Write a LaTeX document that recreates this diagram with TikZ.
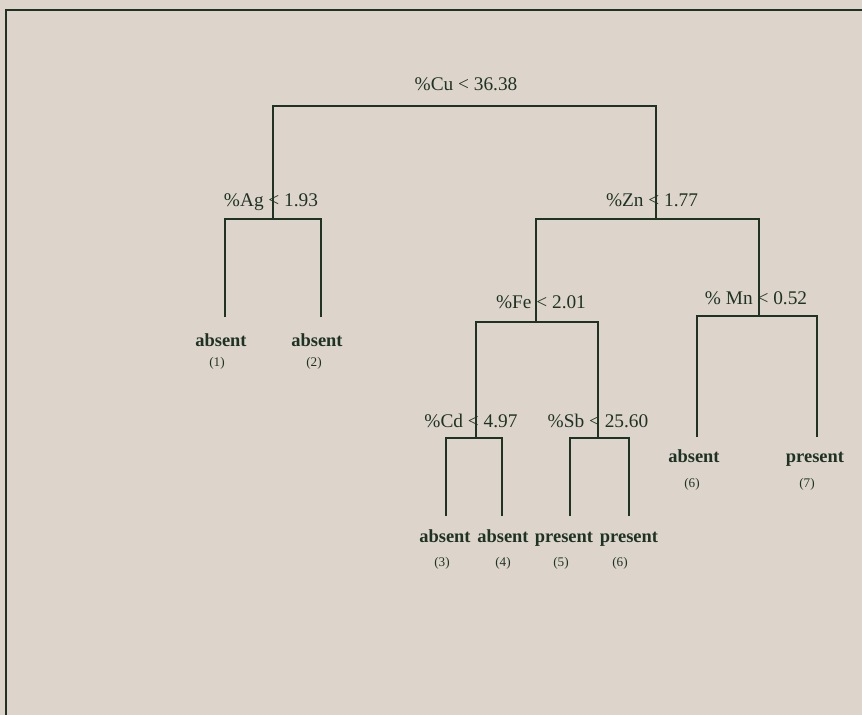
\documentclass[tikz,border=0pt]{standalone}
\usepackage{fontspec}
\setmainfont{Liberation Serif}
\usetikzlibrary{calc}
\definecolor{paper}{HTML}{DDD5CC}
\definecolor{ink}{HTML}{1F3324}

\begin{document}
\begin{tikzpicture}[x=0.02cm,y=-0.02cm,line width=1pt,
        split/.style={text=ink,anchor=base,inner sep=0pt,font=\fontsize{11}{13}\selectfont},
        leaf/.style={text=ink,anchor=base,inner sep=0pt,font=\fontsize{10.5}{12}\selectfont\bfseries},
        num/.style={text=ink,anchor=base,inner sep=0pt,font=\fontsize{7.5}{9}\selectfont}]
        \fill[paper] (0,0) rectangle (862,715);
        \useasboundingbox (0,0) rectangle (862,715);
        \draw[ink] (6,715) -- (6,10) -- (862,10);

        % split points (where the stem meets the bar)
        \coordinate (cu) at (466,106);
        \coordinate (ag) at (273,219);
        \coordinate (zn) at (656,219);
        \coordinate (fe) at (536,322);
        \coordinate (mn) at (759,316);
        \coordinate (cd) at (476,438);
        \coordinate (sb) at (598,438);
        % leaf ends
        \coordinate (e1) at (225,317);
        \coordinate (e2) at (321,317);
        \coordinate (e3) at (446,516);
        \coordinate (e4) at (502,516);
        \coordinate (e5) at (570,516);
        \coordinate (e6) at (629,516);
        \coordinate (e7) at (697,437);
        \coordinate (e8) at (817,437);

        \draw[ink] (ag) |- (cu) -| (zn);
        \draw[ink] (e1) |- (ag) -| (e2);
        \draw[ink] (fe) |- (zn) -| (mn);
        \draw[ink] (cd) |- (fe) -| (sb);
        \draw[ink] (e7) |- (mn) -| (e8);
        \draw[ink] (e3) |- (cd) -| (e4);
        \draw[ink] (e5) |- (sb) -| (e6);

        \node[split] (tcu) at (466,91) {\%Cu < 36.38};
        \node[split] (tag) at (271,207) {\%Ag < 1.93};
        \node[split] (tzn) at (652,207) {\%Zn < 1.77};
        \node[split] (tfe) at (541,309) {\%Fe < 2.01};
        \node[split] (tmn) at (756,305) {\% Mn < 0.52};
        \node[split] (tcd) at (471,428) {\%Cd < 4.97};
        \node[split] (tsb) at (598,428) {\%Sb < 25.60};

        \node[leaf] (l1) at (221,347) {absent};
        \node[leaf] (l2) at (317,347) {absent};
        \node[leaf] (l3) at (445,543) {absent};
        \node[leaf] (l4) at (503,543) {absent};
        \node[leaf] (l5) at (564,543) {present};
        \node[leaf] (l6) at (629,543) {present};
        \node[leaf] (l7) at (694,463) {absent};
        \node[leaf] (l8) at (815,463) {present};

        \node[num] (n1) at (217,367) {(1)};
        \node[num] (n2) at (314,367) {(2)};
        \node[num] (n3) at (442,567) {(3)};
        \node[num] (n4) at (503,567) {(4)};
        \node[num] (n5) at (561,567) {(5)};
        \node[num] (n6) at (620,567) {(6)};
        \node[num] (n7) at (692,488) {(6)};
        \node[num] (n8) at (807,488) {(7)};
\end{tikzpicture}
\end{document}
